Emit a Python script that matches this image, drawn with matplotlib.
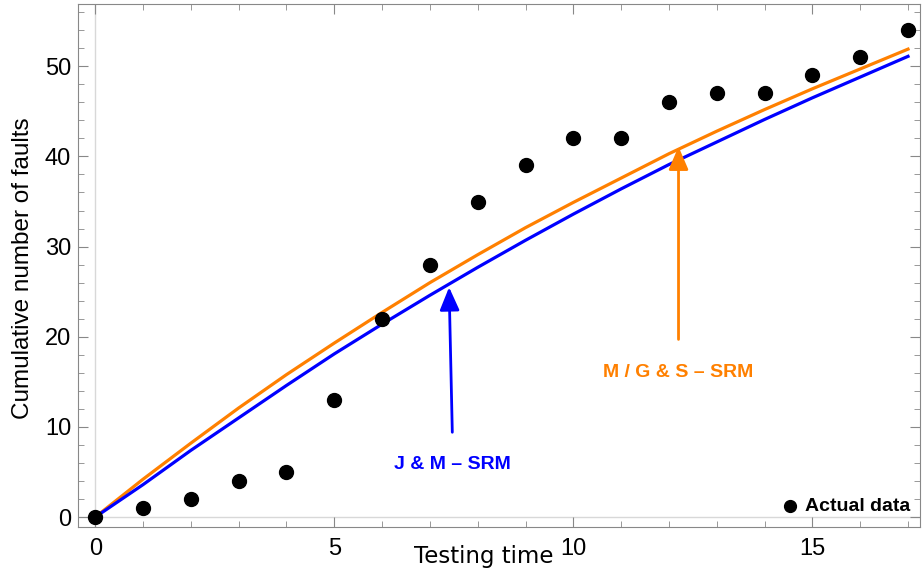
import matplotlib.pyplot as plt
from matplotlib.ticker import MultipleLocator

plt.rcParams['font.family'] = ['Liberation Sans', 'DejaVu Sans']

# testing time and observed cumulative faults
t = [0, 1, 2, 3, 4, 5, 6, 7, 8, 9, 10, 11, 12, 13, 14, 15, 16, 17]
actual = [0, 1, 2, 4, 5, 13, 22, 28, 35, 39, 42, 42, 46, 47, 47, 49, 51, 54]

# fitted curves
mgs_srm = [0, 4.2, 8.2, 12.1, 15.8, 19.3, 22.7, 26.0, 29.1, 32.1, 34.9,
           37.6, 40.3, 42.8, 45.2, 47.5, 49.7, 51.9]
jm_srm = [0, 3.6, 7.4, 11.0, 14.6, 18.1, 21.4, 24.6, 27.7, 30.7, 33.6,
          36.4, 39.1, 41.6, 44.1, 46.5, 48.8, 51.1]

blue = '#0000ff'
orange = '#ff8000'

fig = plt.figure(figsize=(9.22, 5.78), dpi=100)
ax = fig.add_axes([0.0846, 0.0882, 0.9132, 0.9048])

ax.axhline(0, color='#d8d8d8', lw=1, zorder=0)
ax.axvline(0, color='#d8d8d8', lw=1, zorder=0)

ax.plot(t, actual, 'o', color='black', ms=10, zorder=3)
ax.plot(t, mgs_srm, color=orange, lw=2.3, zorder=2)
ax.plot(t, jm_srm, color=blue, lw=2.3, zorder=2)

ax.set_xlim(-0.36, 17.25)
ax.set_ylim(-1.1, 56.9)

ax.xaxis.set_major_locator(MultipleLocator(5))
ax.xaxis.set_minor_locator(MultipleLocator(1))
ax.yaxis.set_major_locator(MultipleLocator(10))
ax.yaxis.set_minor_locator(MultipleLocator(2))
ax.tick_params(which='both', direction='in', top=True, right=True,
               color='#888888', labelsize=17)
ax.tick_params(axis='x', pad=8)
ax.tick_params(axis='y', pad=5)
ax.tick_params(which='major', length=7)
ax.tick_params(which='minor', length=4)
for s in ax.spines.values():
    s.set_color('#888888')

# annotations
ax.annotate('', xy=(7.4, 25.8), xytext=(7.47, 9.1),
            arrowprops=dict(arrowstyle='-|>,head_length=0.7,head_width=0.3',
                            color=blue, lw=2, mutation_scale=20))
ax.text(7.47, 5.8, 'J & M \u2013 SRM', color=blue, fontsize=14,
        fontweight='bold', ha='center', va='center')
ax.annotate('', xy=(12.2, 41.4), xytext=(12.2, 19.4),
            arrowprops=dict(arrowstyle='-|>,head_length=0.7,head_width=0.3',
                            color=orange, lw=2, mutation_scale=20))
ax.text(12.2, 16.0, 'M / G & S \u2013 SRM', color=orange, fontsize=14,
        fontweight='bold', ha='center', va='center')

# legend
ax.plot([14.54], [1.2], 'o', color='black', ms=8.5)
ax.text(14.85, 1.2, 'Actual data', fontsize=14, fontweight='bold', va='center')

fig.text(484 / 922, 1 - 556 / 578, 'Testing time', fontsize=16.5,
         family='DejaVu Sans', ha='center', va='center')
fig.text(23 / 922, 1 - 268 / 578, 'Cumulative number of faults', fontsize=17.5,
         rotation=90, ha='center', va='center')

fig.savefig('out.png', dpi=100)
